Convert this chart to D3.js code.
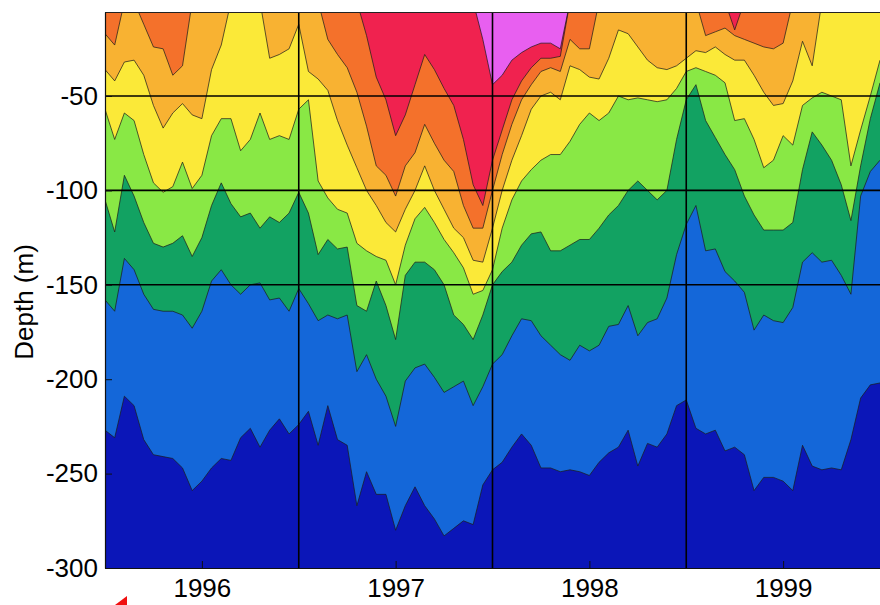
<!DOCTYPE html>
<html>
<head>
<meta charset="utf-8">
<script src="https://cdn.jsdelivr.net/npm/d3@7"></script>
<style>
  body { margin: 0; background: #fff; }
  svg { display: block; }
</style>
</head>
<body>
<svg id="chart" width="880" height="605"></svg>
<script>
// Sample times (decimal years)
const dates = [
  1996.00,1996.05,1996.10,1996.15,1996.20,1996.25,1996.30,1996.35,1996.40,1996.45,
  1996.50,1996.55,1996.60,1996.65,1996.70,1996.75,1996.80,1996.85,1996.90,1996.95,
  1997.00,1997.05,1997.10,1997.15,1997.20,1997.25,1997.30,1997.35,1997.40,1997.45,
  1997.50,1997.55,1997.60,1997.65,1997.70,1997.75,1997.80,1997.85,1997.90,1997.95,
  1998.00,1998.05,1998.10,1998.15,1998.20,1998.25,1998.30,1998.35,1998.40,1998.45,
  1998.50,1998.55,1998.60,1998.65,1998.70,1998.75,1998.80,1998.85,1998.90,1998.95,
  1999.00,1999.05,1999.10,1999.15,1999.20,1999.25,1999.30,1999.35,1999.40,1999.45,
  1999.50,1999.55,1999.60,1999.65,1999.70,1999.75,1999.80,1999.85,1999.90,1999.95,
  2000.00
];

// Isotherm depths (m), warmest first; 0 = isotherm above the shallowest level shown
const iso1 = [
  0,0,0,0,0,0,0,0,0,0,
  0,0,0,0,0,0,0,0,0,0,
  0,0,0,0,0,0,0,0,0,0,
  0,0,0,0,0,0,0,0,0,-20,
  -44,-39,-31,-27,-24,-22,-22,-25,0,0,
  0,0,0,0,0,0,0,0,0,0,
  0,0,0,0,0,0,0,0,0,0,
  0,0,0,0,0,0,0,0,0,0,
  0
];
const iso2 = [
  0,0,0,0,0,0,0,0,0,0,
  0,0,0,0,0,0,0,0,0,0,
  0,0,0,0,0,0,0,-18,-40,-52,
  -71,-60,-44,-28,-36,-46,-55,-73,-97,-108,
  -84,-68,-52,-42,-35,-30,-30,-29,0,0,
  0,0,0,0,0,0,0,0,0,0,
  0,0,0,0,0,-15,0,0,0,0,
  0,0,0,0,0,0,0,0,0,0,
  0
];
const iso3 = [
  -17,-23,0,0,-12,-24,-25,-39,-34,0,
  0,0,0,0,0,0,0,0,0,0,
  0,0,0,-20,-28,-35,-48,-66,-87,-92,
  -103,-87,-80,-65,-75,-84,-90,-108,-120,-120,
  -100,-81,-65,-52,-44,-37,-35,-37,-20,-25,
  -25,0,0,0,0,0,0,0,0,0,
  0,0,-18,-16,-14,-18,-20,-22,-24,-25,
  -22,0,0,0,0,0,0,0,0,0,
  0
];
const iso4 = [
  -36,-42,-32,-31,-39,-55,-67,-59,-54,-60,
  -62,-36,-23,0,0,0,0,-30,-28,-25,
  -12,-37,-41,-47,-63,-76,-88,-100,-108,-117,
  -122,-110,-100,-87,-100,-110,-120,-125,-137,-138,
  -120,-100,-84,-71,-57,-50,-48,-52,-34,-36,
  -40,-41,-30,-15,-17,-24,-31,-35,-36,-34,
  -30,-26,-27,-24,-28,-31,-31,-39,-48,-55,
  -54,-42,-21,-34,0,0,0,0,0,0,
  0
];
const iso5 = [
  -57,-73,-59,-63,-81,-96,-101,-98,-85,-99,
  -92,-71,-62,-62,-79,-73,-59,-73,-71,-73,
  -57,-52,-95,-104,-110,-112,-128,-132,-135,-137,
  -150,-129,-115,-109,-117,-126,-133,-141,-155,-153,
  -142,-120,-105,-95,-89,-84,-81,-81,-74,-65,
  -59,-63,-59,-50,-52,-51,-52,-53,-52,-46,
  -37,-35,-37,-39,-43,-63,-62,-73,-88,-84,
  -71,-76,-55,-51,-48,-50,-52,-87,-68,-50,
  -31
];
const iso6 = [
  -105,-122,-92,-103,-117,-128,-130,-128,-124,-135,
  -125,-108,-96,-107,-114,-112,-120,-114,-117,-112,
  -101,-112,-134,-126,-131,-130,-161,-164,-148,-161,
  -179,-145,-138,-138,-142,-150,-166,-171,-179,-166,
  -150,-143,-138,-129,-123,-122,-132,-132,-129,-126,
  -126,-120,-113,-108,-100,-95,-100,-105,-100,-73,
  -52,-44,-63,-72,-81,-89,-103,-113,-121,-121,
  -121,-117,-89,-69,-76,-84,-97,-116,-87,-62,
  -43
];
const iso7 = [
  -158,-164,-136,-142,-155,-163,-164,-164,-166,-173,
  -164,-148,-142,-150,-155,-150,-149,-158,-157,-164,
  -152,-160,-169,-166,-168,-166,-196,-187,-200,-209,
  -225,-201,-194,-192,-199,-207,-204,-201,-214,-204,
  -192,-187,-177,-168,-169,-177,-182,-187,-190,-182,
  -185,-182,-172,-171,-161,-177,-170,-168,-157,-134,
  -118,-108,-132,-131,-143,-148,-154,-174,-166,-169,
  -170,-162,-138,-133,-138,-137,-145,-155,-103,-90,
  -84
];
const iso8 = [
  -227,-231,-209,-214,-232,-240,-241,-242,-247,-259,
  -254,-247,-242,-243,-231,-226,-236,-227,-221,-229,
  -224,-217,-235,-214,-232,-235,-267,-249,-261,-261,
  -280,-267,-257,-267,-274,-283,-279,-275,-277,-256,
  -248,-244,-236,-229,-235,-247,-247,-249,-248,-249,
  -251,-244,-239,-236,-227,-246,-234,-236,-229,-214,
  -211,-226,-229,-227,-238,-236,-240,-259,-252,-252,
  -254,-259,-235,-246,-248,-247,-248,-232,-210,-203,
  -202
];

// Fill colour of each band, warmest (surface) to coldest (deep)
const bandColors = ["#e85ff0","#f0224f","#f4712b","#f8b232","#fbe938","#89e845","#12a262","#1467d9","#0b16b8"];

const yTickValues = [-300, -250, -200, -150, -100, -50];
const yGridValues = [-150, -100, -50];
const xGridValues = [1997, 1998, 1999];
const xTickValues = [1996.5, 1997.5, 1998.5, 1999.5];
const xTickLabels = ["1996", "1997", "1998", "1999"];

const isotherms = [iso1, iso2, iso3, iso4, iso5, iso6, iso7, iso8];

const FONT = "'Liberation Sans', Arial, Helvetica, sans-serif";
const FONT_SIZE = "26px";
const svg = d3.select("#chart");

const plot = { left: 105, right: 880, top: 12, bottom: 568 };
const x = d3.scaleLinear().domain([1996, 2000]).range([plot.left, plot.right]);
const y = d3.scaleLinear().domain([-5.5, -300]).range([plot.top, plot.bottom]);

svg.append("defs").append("clipPath").attr("id", "plotClip")
  .append("rect")
  .attr("x", plot.left).attr("y", plot.top)
  .attr("width", plot.right - plot.left).attr("height", plot.bottom - plot.top);

const g = svg.append("g").attr("clip-path", "url(#plotClip)");

// warmest band fills the whole panel; each colder band is painted from its isotherm downward
g.append("rect")
  .attr("x", plot.left).attr("y", plot.top)
  .attr("width", plot.right - plot.left).attr("height", plot.bottom - plot.top)
  .attr("fill", bandColors[0]);

const rows = iso => dates.map((t, i) => ({ t, d: iso[i] }));

const area = d3.area()
  .x(p => x(p.t))
  .y0(y(-300))
  .y1(p => y(p.d));

const line = d3.line()
  .x(p => x(p.t))
  .y(p => y(p.d));

isotherms.forEach((iso, k) => {
  g.append("path")
    .attr("d", area(rows(iso)))
    .attr("fill", bandColors[k + 1]);
});

isotherms.forEach(iso => {
  g.append("path")
    .attr("d", line(rows(iso)))
    .attr("fill", "none")
    .attr("stroke", "#1c1c1c")
    .attr("stroke-opacity", 0.8)
    .attr("stroke-width", 0.9)
    .attr("stroke-linejoin", "round");
});

// grid
g.selectAll(".hgrid").data(yGridValues).join("line")
  .attr("x1", plot.left).attr("x2", plot.right)
  .attr("y1", d => y(d)).attr("y2", d => y(d))
  .attr("stroke", "#000").attr("stroke-width", 1.6);

g.selectAll(".vgrid").data(xGridValues).join("line")
  .attr("x1", d => x(d)).attr("x2", d => x(d))
  .attr("y1", plot.top).attr("y2", plot.bottom)
  .attr("stroke", "#000").attr("stroke-width", 1.6);

// frame along the top
svg.append("line")
  .attr("x1", plot.left).attr("x2", plot.right)
  .attr("y1", plot.top + 0.5).attr("y2", plot.top + 0.5)
  .attr("stroke", "#222").attr("stroke-width", 1);

// axes
const yAxis = svg.append("g")
  .attr("transform", `translate(${plot.left},0)`)
  .call(d3.axisLeft(y).tickValues(yTickValues).tickFormat(d => String(d))
    .tickSize(-7).tickSizeOuter(0).tickPadding(7));

const xAxis = svg.append("g")
  .attr("transform", `translate(0,${plot.bottom})`)
  .call(d3.axisBottom(x).tickValues(xTickValues)
    .tickFormat((d, i) => xTickLabels[i])
    .tickSize(-7).tickSizeOuter(0).tickPadding(11));

[yAxis, xAxis].forEach(ax => {
  ax.select(".domain").attr("stroke", "#111").attr("stroke-width", 1.2);
  ax.selectAll(".tick line").attr("stroke", "#111").attr("stroke-width", 1);
  ax.selectAll("text")
    .attr("fill", "#000")
    .style("font-family", FONT)
    .style("font-size", FONT_SIZE);
});

svg.append("text")
  .attr("transform", "translate(33,302) rotate(-90)")
  .attr("text-anchor", "middle")
  .style("font-family", FONT)
  .style("font-size", FONT_SIZE)
  .attr("fill", "#000")
  .text("Depth (m)");

// small red pointer mark below the axis
svg.append("path")
  .attr("d", d3.line()([[115, 605], [127, 596], [127, 605]]) + "Z")
  .attr("fill", "#f01010");
</script>
</body>
</html>
